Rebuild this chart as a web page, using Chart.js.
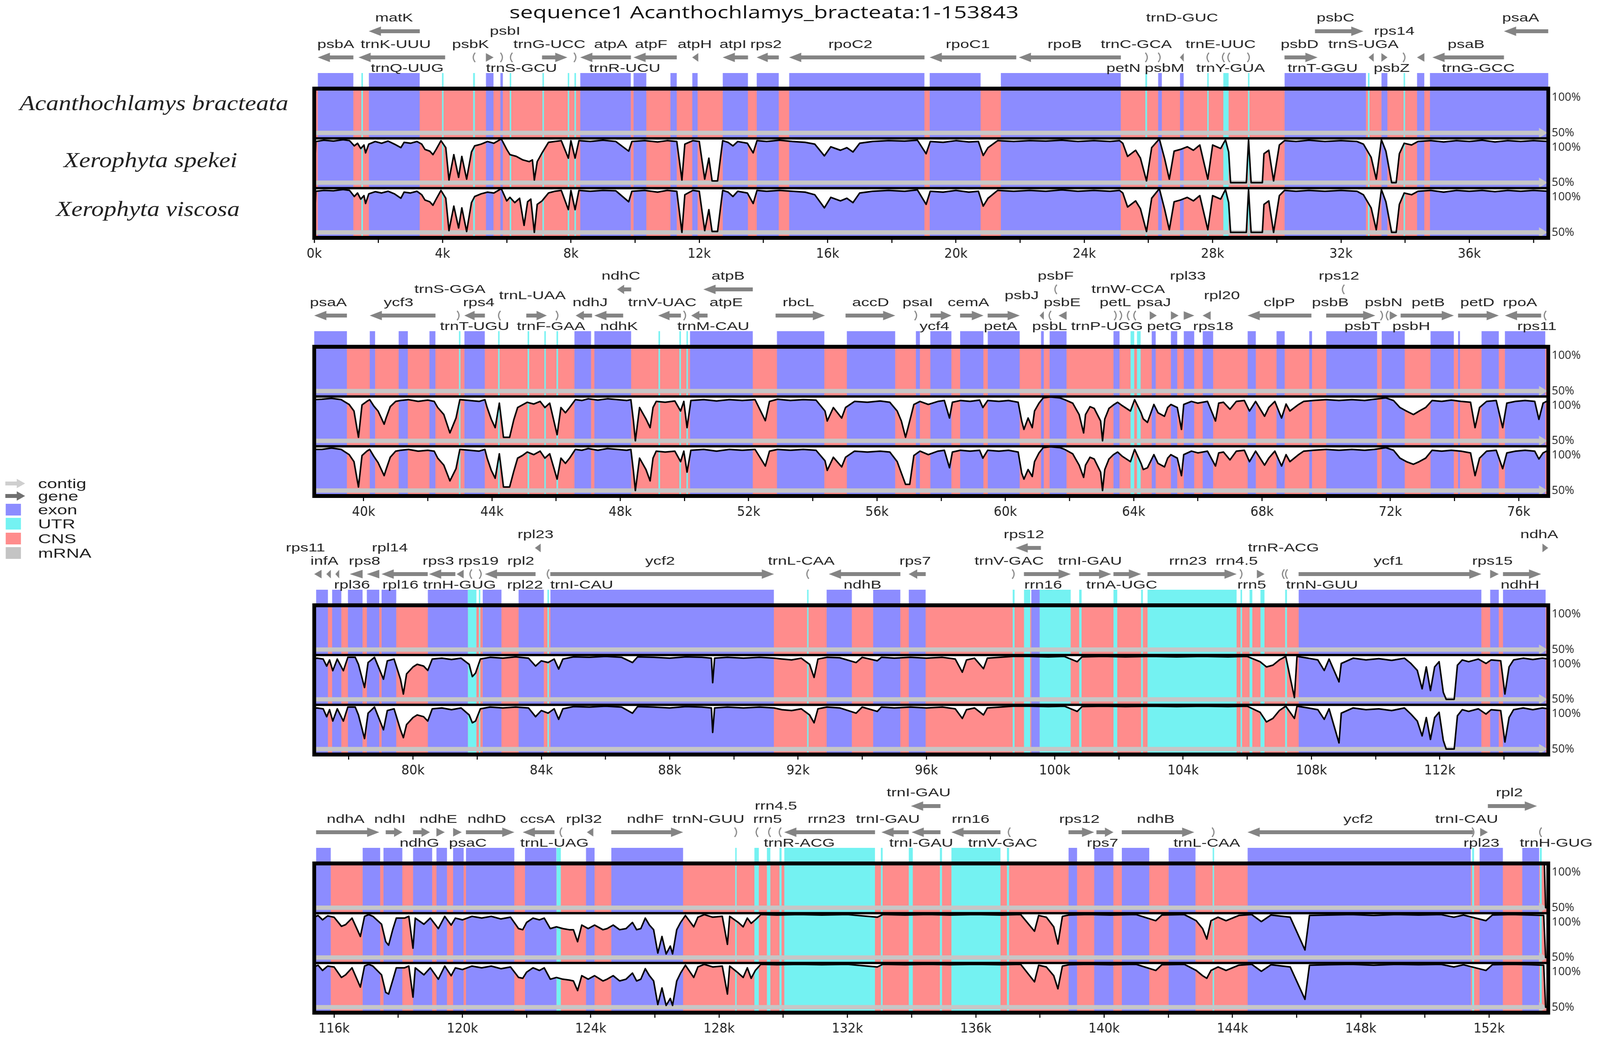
<!DOCTYPE html>
<html>
<head>
<meta charset="utf-8">
<script src="https://cdn.jsdelivr.net/npm/chart.js@4.4.1/dist/chart.umd.min.js"></script>
<style>
html,body{margin:0;padding:0;width:100%;height:100%;overflow:hidden;background:#fff;}
#stage{position:absolute;left:0;top:0;width:4206px;height:2663px;transform-origin:0 0;background:#fff;}
canvas.panel{position:absolute;left:0;}
.txt{position:absolute;white-space:nowrap;line-height:1;}
</style>
</head>
<body>
<div id="stage">
<canvas id="p0" class="panel" width="4206" height="662"></canvas>
<canvas id="p1" class="panel" width="4206" height="662"></canvas>
<canvas id="p2" class="panel" width="4206" height="662"></canvas>
<canvas id="p3" class="panel" width="4206" height="662"></canvas>
<svg id="legendIcons" style="position:absolute;left:0;top:0" width="80" height="2663"></svg>
</div>
<script>
// ---------------- DATA (positions in kb) ----------------
const genomeTitle = "sequence1 Acanthochlamys_bracteata:1-153843";
const speciesNames = ["Acanthochlamys bracteata", "Xerophyta spekei", "Xerophyta viscosa"];
const panelRanges = [[0, 38.461], [38.461, 76.922], [76.922, 115.382], [115.382, 153.843]];
const legendLabels = ["contig", "gene", "exon", "UTR", "CNS", "mRNA"];
const axisTicks = [0,2,4,6,8,10,12,14,16,18,20,22,24,26,28,30,32,34,36,38,40,42,44,46,48,50,52,54,56,58,60,62,64,66,68,70,72,74,76,78,80,82,84,86,88,90,92,94,96,98,100,102,104,106,108,110,112,114,116,118,120,122,124,126,128,130,132,134,136,138,140,142,144,146,148,150,152];
const contigRange = [0, 153.843];

// gene: [name, start, end, strand, arrowRow, labelRow, labelAt]
const genesP1 = [
 ["psbA",0.11,1.22,-1,"m",3,0.67],["trnK-UUU",1.38,4.08,-1,"m",3,2.54],["matK",1.70,3.29,-1,"h",0,2.49],
 ["trnQ-UUG",4.94,5.02,-1,"m",4,2.9],["psbK",5.35,5.59,1,"m",3,4.87],["psbI",5.80,5.88,1,"m",1,5.95],
 ["trnS-GCU",6.10,6.18,-1,"m",4,6.46],["trnG-UCC",7.10,7.89,1,"m",3,7.33],["trnR-UCU",8.09,8.17,1,"m",4,9.68],
 ["atpA",8.29,9.87,-1,"m",3,9.24],["atpF",9.95,11.30,-1,"m",3,10.5],["atpH",11.78,11.97,-1,"m",3,11.86],
 ["atpI",12.73,13.52,-1,"m",3,13.05],["rps2",13.79,14.48,-1,"m",3,14.08],["rpoC2",14.80,19.02,-1,"m",3,16.71],
 ["rpoC1",19.18,21.88,-1,"m",3,20.37],["rpoB",21.96,25.14,-1,"m",3,23.39],["trnC-GCA",25.90,25.98,1,"m",3,25.62],
 ["petN",26.30,26.38,1,"m",4,25.22],["psbM",26.98,27.10,-1,"m",4,26.5],["trnD-GUC",27.81,27.89,-1,"m",0,27.05],
 ["trnE-UUC",28.29,28.37,-1,"m",3,28.25],["trnY-GUA",28.46,28.54,-1,"m",4,28.56],["trnT-GGU",29.08,29.16,1,"m",4,31.43],
 ["psbD",30.24,31.27,1,"m",3,30.71],["psbC",31.19,32.70,1,"h",0,31.83],["trnS-UGA",32.86,33.02,-1,"m",3,32.7],
 ["psbZ",33.26,33.45,1,"m",4,33.58],["trnG-GCC",33.93,34.01,1,"m",4,36.28],["rps14",34.37,34.60,-1,"m",1,33.66],
 ["psaB",34.85,37.08,-1,"m",3,35.9],["psaA",37.08,38.46,-1,"h",0,37.6]
];
const genesP2 = [
 ["psaA",38.46,39.48,-1,"m",3,38.9],["ycf3",40.19,42.24,-1,"m",3,41.09],["trnS-GGA",42.91,42.99,1,"m",1,42.69],
 ["rps4",43.14,43.78,-1,"m",3,43.59],["trnT-UGU",44.19,44.27,-1,"m",4,43.46],["trnL-UAA",45.07,45.71,1,"m",2,45.26],
 ["trnF-GAA",45.99,46.07,1,"m",4,45.84],["ndhJ",46.61,47.12,-1,"m",3,47.06],["ndhK",47.19,48.09,-1,"m",4,47.96],
 ["ndhC",47.90,48.34,-1,"h",0,48.02],["trnV-UAC",49.18,49.89,-1,"m",3,49.31],["trnM-CAU",49.97,50.05,1,"m",4,50.9],
 ["atpE",50.21,50.72,-1,"m",3,51.3],["atpB",50.59,52.13,-1,"h",0,51.36],["rbcL",52.84,54.38,1,"m",3,53.55],
 ["accD",55.02,56.57,1,"m",3,55.8],["psaI",57.17,57.25,1,"m",3,57.27],["ycf4",57.66,58.32,1,"m",4,57.79],
 ["cemA",58.59,59.32,1,"m",3,58.85],["petA",59.45,60.45,1,"m",4,59.85],["psbJ",61.07,61.20,-1,"m",2,60.51],
 ["psbL",61.34,61.44,-1,"m",4,61.38],["psbF",61.52,61.62,-1,"h",0,61.57],["psbE",61.66,61.91,-1,"m",3,61.77],
 ["petL",63.39,63.47,1,"m",3,63.43],["petG",63.56,63.64,1,"m",4,64.96],["trnW-CCA",63.79,63.87,-1,"m",1,63.83],
 ["trnP-UGG",63.99,64.07,-1,"m",4,63.17],["psaJ",64.50,64.72,1,"m",3,64.63],["rpl33",65.16,65.40,1,"m",0,65.69],
 ["rps18",65.56,65.89,1,"m",4,66.48],["rpl20",66.15,66.40,-1,"m",2,66.75],["clpP",67.55,69.54,-1,"m",3,68.54],
 ["rps12",70.49,70.57,-1,"h",0,70.4],["psbB",70.00,71.53,1,"m",3,70.13],["psbT",71.69,71.77,1,"m",4,71.13],
 ["psbN",71.86,71.94,-1,"m",3,71.79],["psbH",71.98,72.22,1,"m",4,72.65],["petB",72.32,73.98,1,"m",3,73.18],
 ["petD",74.11,75.38,1,"m",3,74.71],["rpoA",75.57,76.70,-1,"m",3,76.04],["rps11",76.78,76.86,-1,"m",4,76.57]
];
const genesP3 = [
 ["rps11",76.92,77.15,-1,"m",1,76.65],["infA",77.30,77.44,-1,"m",3,77.24],["rpl36",77.58,77.70,-1,"m",4,78.1],
 ["rps8",78.03,78.43,-1,"m",3,78.49],["rpl14",78.56,78.95,-1,"m",1,79.28],["rpl16",79.02,80.46,-1,"m",4,79.61],
 ["rps3",80.50,81.32,-1,"m",3,80.79],["rpl22",81.36,81.58,-1,"m",4,83.49],["trnH-GUG",81.76,81.84,-1,"m",4,81.45],
 ["rps19",82.06,82.14,1,"m",3,82.04],["rpl2",82.24,83.82,-1,"m",3,83.36],["rpl23",83.80,83.98,-1,"h",0,83.82],
 ["trnI-CAU",84.17,84.25,-1,"m",4,85.26],["ycf2",84.28,91.25,1,"m",3,87.7],["trnL-CAA",92.26,92.34,-1,"m",3,92.1],
 ["ndhB",92.96,95.19,-1,"m",4,94.01],["rps7",95.45,95.98,-1,"m",3,95.65],["trnV-GAC",98.67,98.75,1,"m",3,98.58],
 ["rps12",98.78,99.57,-1,"h",0,99.04],["rrn16",99.04,100.50,1,"m",4,99.64],["trnI-GAU",100.76,101.76,1,"m",3,101.1],
 ["trnA-UGC",101.83,102.69,1,"m",4,102.09],["rrn23",102.89,105.67,1,"m",3,104.15],["rrn4.5",105.77,105.85,1,"m",3,105.67],
 ["rrn5",106.30,106.54,1,"m",4,106.14],["trnR-ACG",107.08,107.16,-1,"m",1,107.13],["trnN-GUU",107.18,107.26,-1,"m",4,108.33],
 ["ycf1",107.60,113.30,1,"m",3,110.4],["rps15",113.57,113.84,1,"m",3,113.64],["ndhH",113.97,115.16,1,"m",4,114.5],
 ["ndhA",115.20,115.38,1,"h",0,115.1]
];
const genesP4 = [
 ["ndhA",115.44,117.41,1,"m",3,116.36],["ndhI",117.61,118.13,1,"m",3,117.74],["ndhG",118.46,118.99,1,"m",4,118.66],
 ["ndhE",119.19,119.45,1,"m",3,119.25],["psaC",119.71,119.98,1,"m",4,120.17],["ndhD",120.11,121.62,1,"m",3,120.76],
 ["ccsA",121.88,122.87,-1,"m",3,122.34],["trnL-UAG",123.03,123.11,-1,"m",4,122.87],["rpl32",123.88,124.08,-1,"m",3,123.79],
 ["ndhF",124.64,126.88,1,"m",3,125.7],["trnN-GUU",128.48,128.56,1,"m",3,127.67],["rrn5",129.14,129.22,-1,"m",3,129.51],
 ["rrn4.5",129.53,129.61,-1,"m",1,129.77],["trnR-ACG",129.86,129.94,-1,"m",4,130.5],["rrn23",130.03,132.86,-1,"m",3,131.35],
 ["trnI-GAU",133.06,133.91,-1,"m",3,133.26],["trnI-GAU",133.98,134.90,-1,"h",0,134.22],["trnI-GAU",134.00,134.90,-1,"m",4,134.3],
 ["rrn16",135.24,136.77,-1,"m",3,135.84],["trnV-GAC",137.00,137.08,-1,"m",4,136.84],["rps12",138.89,139.69,1,"m",3,139.23],
 ["rps7",139.76,140.29,1,"m",4,139.95],["ndhB",140.55,142.81,1,"m",3,141.61],["trnL-CAA",143.36,143.44,1,"m",4,143.2],
 ["ycf2",144.47,151.50,-1,"m",3,147.92],["trnI-CAU",151.46,151.54,1,"m",3,151.3],["rpl23",151.72,151.96,1,"m",4,151.76],
 ["rpl2",151.96,153.49,1,"h",0,152.63],["trnH-GUG",153.56,153.64,-1,"m",4,154.09]
];

const exonRegions = [
 [0.11,1.22],[1.70,3.29],[5.35,5.59],[5.80,5.88],[8.29,9.87],[9.95,10.35],[11.1,11.3],[11.78,11.95],[12.73,13.52],[13.79,14.48],
 [14.8,19.02],[19.18,20.77],[21.4,25.14],[26.3,26.42],[26.98,27.1],[30.24,32.78],[33.26,33.45],[34.37,34.6],[34.77,39.48],
 [40.19,40.36],[41.09,41.38],[42.05,42.24],[43.14,43.78],[46.57,47.09],[47.19,48.34],[50.17,52.13],[52.88,54.36],[55.06,56.57],
 [57.21,57.34],[57.66,58.32],[58.59,59.32],[59.45,60.45],[61.11,61.2],[61.38,61.91],[63.37,63.56],[64.56,64.69],[65.16,65.36],
 [65.56,65.89],[66.15,66.48],[67.55,67.81],[68.45,68.71],[69.47,69.56],[70.0,71.59],[71.73,72.45],[73.25,73.98],[74.11,74.17],
 [74.84,75.38],[75.57,76.83],
 [76.98,77.35],[77.48,77.77],[77.97,78.43],[78.56,78.95],[79.02,79.48],[80.46,81.71],[82.17,82.76],[83.29,84.08],[84.28,91.25],
 [92.89,93.68],[94.34,95.19],[95.45,95.98],[99.27,99.53],[107.6,113.3],[113.57,113.84],[113.97,115.3],
 [115.44,115.9],[116.89,117.44],[117.54,118.13],[118.46,119.06],[119.19,119.52],[119.71,120.04],[120.11,121.62],[121.95,122.93],
 [123.85,124.12],[124.64,126.88],[138.89,139.16],[139.69,140.29],[140.55,141.41],[142.01,142.85],[144.47,151.43],[151.7,152.43],
 [153.03,153.56]
];
const utrRegions = [
 [1.47,1.52],[3.98,4.03],[4.95,5.01],[6.09,6.14],[7.11,7.16],[7.90,7.95],[8.11,8.16],[25.9,25.96],[27.83,27.88],[28.33,28.5],
 [29.1,29.15],[32.84,32.89],[33.95,34.0],
 [42.97,43.02],[44.19,44.24],[45.11,45.16],[45.63,45.68],[46.01,46.06],[49.19,49.24],[49.84,49.89],[50.06,50.11],[63.9,64.02],[64.1,64.22],
 [81.71,81.98],[82.05,82.1],[84.19,84.24],[92.28,92.33],[98.69,98.75],[99.04,99.24],[99.53,100.5],[100.76,100.84],[101.83,101.95],
 [102.69,102.75],[102.89,105.67],[105.79,105.84],[106.07,106.16],[106.41,106.54],[107.18,107.24],
 [122.93,123.07],[128.5,128.55],[129.1,129.24],[129.49,129.6],[129.88,129.95],[130.03,132.86],[133.04,133.1],[133.91,134.04],
 [134.88,134.95],[135.24,136.77],[136.97,137.04],[143.38,143.43],[151.47,151.53],[153.58,153.64]
];

// similarity curves [kb, %identity]
const refCurve = [[0,50],[0.04,100],[153.72,100],[153.76,50],[153.843,50]];
const spekeiCurve = [
 [0,50],[0.05,97],[0.3,98.5],[0.6,97.5],[0.9,99],[1.1,98],[1.25,92],[1.35,95],[1.45,89],[1.55,93],[1.6,84],[1.7,94],[1.9,97],[2.1,95],
 [2.3,97.5],[2.5,94],[2.7,90],[2.8,96],[3.0,95],[3.2,97],[3.35,94],[3.45,88],[3.6,86],[3.7,82],[3.8,88],[3.95,98],[4.1,90],[4.2,53],
 [4.35,82],[4.5,56],[4.6,80],[4.75,54],[4.9,85],[5.0,92],[5.2,94],[5.4,97],[5.6,95],[5.83,100],[6.0,88],[6.1,82],[6.3,80],[6.5,76],
 [6.7,74],[6.8,76],[6.86,53],[6.95,74],[7.1,84],[7.3,96],[7.5,97],[7.7,98],[7.92,78],[8.0,98],[8.13,78],[8.25,98],[8.6,97],[9.0,98.5],
 [9.4,97],[9.8,86],[9.9,97],[10.3,98],[10.7,96.5],[11.0,98],[11.3,97],[11.46,53],[11.55,94],[11.8,98],[12.0,97],[12.17,54],[12.3,78],
 [12.4,52],[12.57,52],[12.73,98],[12.9,96],[13.05,92],[13.2,97],[13.5,95],[13.68,84],[13.8,98],[14.1,97],[14.5,98.5],[14.9,97],
 [15.3,96],[15.6,94],[15.9,80.6],[16.1,91],[16.4,87],[16.6,90],[16.79,85],[17.0,95],[17.4,97],[17.9,98],[18.4,97.5],[18.8,98.5],
 [19.07,83],[19.2,97],[19.6,96],[20.0,98],[20.4,96.5],[20.7,97],[20.85,81],[21.0,90],[21.3,98],[21.8,97],[22.3,98],[22.8,97.5],
 [23.3,98.5],[23.8,97],[24.3,98],[24.8,97],[25.1,98],[25.2,95],[25.35,80],[25.6,87],[25.75,78],[25.94,52],[26.1,90],[26.34,100],
 [26.5,78],[26.65,54],[26.8,86],[27.0,88],[27.21,91],[27.4,87],[27.6,93],[27.85,54],[28.0,93],[28.25,89],[28.4,99],[28.5,85],
 [28.56,50],[29.05,50],[29.12,99],[29.2,50],[29.55,50],[29.6,83],[29.75,87],[29.9,52],[30.08,93],[30.24,98],[30.6,97],[31.0,98.5],
 [31.5,97],[32.0,98],[32.5,97],[32.7,94],[32.94,79],[33.1,54],[33.26,99],[33.4,86],[33.58,50],[33.72,50],[33.82,83],[33.97,95],
 [34.2,93],[34.4,97],[34.8,98],[35.2,96.5],[35.6,98],[36.0,97],[36.4,98.5],[36.8,96.5],[37.2,98],[37.6,97],[38.0,98],[38.46,97],
 [38.7,97.5],[39.0,98.5],[39.3,97],[39.55,91.5],[39.7,84],[39.84,54],[39.95,91],[40.1,95],[40.19,97],[40.32,89.6],[40.45,84],
 [40.64,69],[40.7,76],[40.83,89],[41.0,95],[41.15,96],[41.4,97],[41.7,95],[42.0,96.5],[42.2,95],[42.31,88],[42.5,80],[42.69,59],
 [42.88,76],[43.0,97],[43.3,96],[43.6,95],[43.78,97],[43.85,88],[43.98,74.5],[44.1,65],[44.23,93],[44.36,54],[44.55,54],[44.68,74],
 [44.8,88],[44.95,91],[45.1,94],[45.3,92],[45.5,95],[45.65,88],[45.8,93],[46.03,57],[46.15,88],[46.29,82],[46.42,88],[46.6,97],
 [46.8,96],[47.0,98],[47.3,96.5],[47.6,98],[47.9,97],[48.2,96],[48.33,97],[48.41,72.6],[48.47,50],[48.6,88],[48.8,75],[48.93,65],
 [49.02,88],[49.12,95],[49.4,94],[49.7,95.5],[49.88,84],[49.98,95],[50.08,65],[50.2,96],[50.6,97],[51.0,95.5],[51.4,97],[51.8,96],
 [52.2,97],[52.52,73],[52.65,95],[52.9,97.5],[53.3,96],[53.7,97],[54.1,96.5],[54.38,84],[54.45,72.6],[54.64,88],[54.9,76],[55.02,88],
 [55.3,95],[55.7,94],[56.1,95.5],[56.4,94],[56.63,84],[56.76,72.6],[56.89,54],[57.02,72.6],[57.15,91.5],[57.34,95],[57.6,91.5],
 [57.9,95],[58.1,96],[58.26,76],[58.35,94],[58.6,96],[58.9,95],[59.2,96.5],[59.3,88],[59.45,96],[59.8,95],[60.1,96],[60.4,94],
 [60.51,72.6],[60.58,63],[60.71,76],[60.84,65],[60.91,84],[61.05,93],[61.18,99],[61.4,100],[61.7,99],[61.85,97],[62.1,93],[62.3,80],
 [62.44,59],[62.5,80],[62.64,89],[62.77,87],[62.97,72.6],[63.03,50],[63.1,75],[63.23,87],[63.37,91],[63.5,94],[63.65,90],[63.9,84],
 [64.03,97],[64.23,82],[64.3,75],[64.43,71],[64.63,91.5],[64.76,82],[64.96,78],[65.06,88],[65.16,91.5],[65.36,88],[65.49,63],
 [65.56,91.5],[65.8,95],[66.0,93],[66.3,95],[66.55,72.6],[66.65,93],[66.8,94],[67.0,86],[67.2,95],[67.45,96],[67.61,84],[67.8,95],
 [68.08,78],[68.21,88],[68.4,95],[68.61,76],[68.75,92],[68.87,84],[69.14,91.5],[69.3,95],[69.6,96],[70.0,97],[70.4,96],[70.8,97],
 [71.2,96],[71.5,97.5],[71.86,99],[72.1,96],[72.3,88],[72.5,84],[72.72,80],[72.9,84],[73.1,88],[73.3,96],[73.6,95],[73.9,96.5],
 [74.2,95],[74.5,94],[74.64,65],[74.78,88],[75.0,95],[75.3,96],[75.5,65],[75.63,93],[75.9,95],[76.2,96],[76.5,95],[76.63,74.5],
 [76.76,93],[76.92,96],
 [77.0,97],[77.2,96],[77.31,88],[77.4,95],[77.5,82.7],[77.64,96],[77.83,82.7],[77.97,98],[78.2,98],[78.3,90],[78.49,63.5],[78.6,92],
 [78.8,98],[79.08,73],[79.2,94],[79.41,96],[79.61,73],[79.7,56],[79.8,79],[80.0,87],[80.13,90],[80.33,88],[80.46,83],[80.6,96],
 [80.9,97],[81.2,95.5],[81.5,97],[81.75,90],[81.85,76],[81.95,80],[82.1,96],[82.4,98],[82.8,97],[83.2,98.5],[83.6,97],[83.82,88],
 [84.0,94],[84.21,92],[84.4,96],[84.54,84.6],[84.67,96],[85.0,98.5],[85.5,98],[86.0,99],[86.5,98],[86.84,92],[87.0,98.5],[87.5,98],
 [88.0,97],[88.5,98.5],[89.0,98],[89.3,97],[89.34,69],[89.4,97],[89.8,98],[90.3,97],[90.8,98],[91.25,97],[91.5,96],[91.8,95],
 [92.1,97],[92.36,90],[92.5,75],[92.62,96],[92.9,98],[93.3,97.5],[93.81,92],[94.0,98],[94.47,94],[94.6,98],[95.0,97],[95.5,98],
 [96.0,97],[96.5,98],[96.9,96],[97.12,81],[97.25,95],[97.5,97],[97.78,85],[97.9,97],[98.3,98],[98.7,99],[99.2,99],[99.8,98.5],
 [100.3,99],[100.7,93],[100.85,98.5],[101.5,99],[102.2,98.5],[103.0,99],[103.8,98.5],[104.6,99],[105.4,98.5],[106.0,99],[106.4,93],
 [106.6,87],[106.8,89],[107.0,95],[107.2,99],[107.47,52],[107.55,99],[107.9,97],[108.2,95],[108.4,83],[108.55,96],[108.86,70],
 [108.93,91],[109.3,97],[109.7,95],[110.1,96.5],[110.5,94.5],[110.9,97],[111.1,91],[111.3,83],[111.45,62],[111.58,87],[111.71,60],
 [111.84,87],[111.98,93],[112.11,58],[112.2,50],[112.45,50],[112.55,89],[112.7,95],[112.9,93],[113.2,96],[113.44,91],[113.6,95],
 [113.9,94],[114.03,56],[114.16,87],[114.3,95],[114.6,97],[114.9,95.5],[115.2,97],[115.38,96],
 [115.5,98],[115.64,93],[115.8,97.5],[116.0,96],[116.23,85.6],[116.36,87.5],[116.56,95],[116.82,74],[116.95,97],[117.08,99],
 [117.21,97],[117.48,88],[117.61,68],[117.7,64],[117.83,82],[117.94,95],[118.2,95],[118.33,97],[118.46,60.6],[118.53,95],[118.8,88],
 [119.0,95],[119.25,83],[119.45,97],[119.65,87],[119.78,95],[120.0,93],[120.3,97],[120.6,95],[120.9,97],[121.2,94],[121.5,96],
 [121.75,83],[121.88,81.7],[122.0,90],[122.2,95],[122.4,93],[122.55,95],[122.74,83],[122.93,85],[123.13,83],[123.33,81.7],
 [123.46,81.7],[123.59,68],[123.72,87],[123.92,83],[124.12,87],[124.38,81.7],[124.51,83],[124.7,87],[124.9,81.7],[125.1,83],
 [125.3,90],[125.43,81.7],[125.56,83],[125.7,95],[125.83,87],[125.96,81.7],[126.09,55],[126.22,74],[126.35,54],[126.48,63],
 [126.55,54],[126.68,81.7],[126.8,90],[126.95,98],[127.21,85],[127.34,96],[127.54,99],[127.8,96],[128.1,97],[128.26,65],[128.33,97],
 [128.6,90],[128.75,85],[128.88,95],[129.0,89],[129.13,93],[129.3,99],[129.8,98.5],[130.5,99],[131.2,98.5],[132.0,99],[132.93,96],
 [133.1,99],[133.8,98.5],[134.5,99],[135.2,98.5],[136.0,99],[136.8,98.5],[137.4,99],[137.83,80],[137.96,98],[138.2,96],[138.43,85],
 [138.56,65.4],[138.7,97],[138.9,98.5],[139.5,99],[140.2,98.5],[141.0,99],[141.61,92],[141.8,98.5],[142.5,99],[142.87,92],[143.07,83],
 [143.2,71],[143.33,92],[143.55,96],[143.8,92],[144.2,98],[144.6,99],[144.9,91],[145.2,98.5],[145.8,96],[146.26,58.6],[146.4,98],
 [147.0,98.5],[147.7,99],[148.4,98],[149.1,99],[149.8,98.5],[150.5,99],[150.9,96],[151.2,98.5],[151.9,92],[152.1,98.5],[152.7,99],
 [153.3,98.5],[153.7,98],[153.76,50],[153.843,50]
];
const viscosaCurve = [
 [0,50],[0.05,97],[0.3,98],[0.6,97.5],[0.9,99],[1.1,98],[1.25,91],[1.35,95],[1.45,88],[1.55,92],[1.6,83],[1.7,94],[1.9,96.5],[2.1,95],
 [2.3,97],[2.5,94],[2.7,89],[2.8,96],[3.0,95],[3.2,97],[3.35,93],[3.45,87],[3.6,85],[3.7,81],[3.8,88],[3.95,98],[4.1,89],[4.2,52],
 [4.35,80],[4.5,55],[4.6,78],[4.75,51],[4.9,84],[5.0,91],[5.2,94],[5.4,96],[5.6,95],[5.83,100],[6.0,86],[6.1,90],[6.25,84],[6.4,89],
 [6.54,58],[6.65,85],[6.75,88],[6.86,50],[6.95,82],[7.1,86],[7.3,95],[7.5,97],[7.7,98],[7.92,76],[8.0,98],[8.13,76],[8.25,98],
 [8.6,97],[9.0,98],[9.4,97.5],[9.8,85],[9.9,97],[10.3,98],[10.7,96],[11.0,98],[11.3,97],[11.46,50],[11.55,93],[11.8,98],[12.0,97],
 [12.17,52],[12.3,76],[12.4,51],[12.57,51],[12.73,98],[12.9,96],[13.05,91],[13.2,97],[13.5,95],[13.68,83],[13.8,98],[14.1,97],
 [14.5,98],[14.9,97],[15.3,96],[15.6,93],[15.9,78],[16.1,90],[16.4,86],[16.6,89],[16.79,84],[17.0,95],[17.4,97],[17.9,98],[18.4,97],
 [18.8,98.5],[19.07,82],[19.2,97],[19.6,96],[20.0,98],[20.4,96],[20.7,97],[20.85,80],[21.0,89],[21.3,98],[21.8,97],[22.3,98],
 [22.8,97],[23.3,98.5],[23.8,97],[24.3,98],[24.8,97],[25.1,98],[25.2,95],[25.35,79],[25.6,86],[25.75,77],[25.94,51],[26.1,89],
 [26.34,100],[26.5,77],[26.65,53],[26.8,85],[27.0,87],[27.21,90],[27.4,86],[27.6,92],[27.85,53],[28.0,92],[28.25,88],[28.4,99],
 [28.5,84],[28.56,50],[29.05,50],[29.12,99],[29.2,50],[29.55,50],[29.6,82],[29.75,86],[29.9,50],[30.08,92],[30.24,98],[30.6,97],
 [31.0,98],[31.5,97],[32.0,98],[32.5,97],[32.7,93],[32.94,78],[33.1,53],[33.26,99],[33.4,85],[33.58,50],[33.72,50],[33.82,82],
 [33.97,95],[34.2,93],[34.4,97],[34.8,98],[35.2,96],[35.6,98],[36.0,97],[36.4,98],[36.8,96.5],[37.2,98],[37.6,97],[38.0,98],[38.46,97],
 [38.7,97],[39.0,98.5],[39.3,97],[39.55,91],[39.7,83],[39.84,54],[39.95,90],[40.1,95],[40.19,97],[40.32,89],[40.45,82],[40.64,67],
 [40.7,74],[40.83,88],[41.0,95],[41.15,96],[41.4,97],[41.7,95],[42.0,96],[42.2,95],[42.31,87],[42.5,79],[42.69,61],[42.88,75],
 [43.0,97],[43.3,96],[43.6,95],[43.78,97],[43.85,87],[43.98,73],[44.1,64],[44.23,92],[44.36,54],[44.55,54],[44.68,72],[44.8,87],
 [44.95,90],[45.1,94],[45.3,91],[45.5,95],[45.65,87],[45.8,92],[46.03,63],[46.15,87],[46.29,81],[46.42,87],[46.6,97],[46.8,96],
 [47.0,98],[47.3,96],[47.6,98],[47.9,97],[48.2,96],[48.33,97],[48.41,72],[48.47,50],[48.6,87],[48.8,74],[48.93,61],[49.02,87],
 [49.12,95],[49.4,94],[49.7,95],[49.88,83],[49.98,95],[50.08,71],[50.2,96],[50.6,97],[51.0,95],[51.4,97],[51.8,96],[52.2,97],
 [52.52,78],[52.65,95],[52.9,97],[53.3,96],[53.7,97],[54.1,96],[54.38,84],[54.45,73],[54.64,88],[54.9,77],[55.02,88],[55.3,95],
 [55.7,94],[56.1,95],[56.4,94],[56.63,83],[56.76,70],[56.89,57],[57.02,57],[57.15,90],[57.34,95],[57.6,91],[57.9,95],[58.1,96],
 [58.26,76],[58.35,94],[58.6,96],[58.9,95],[59.2,96],[59.3,87],[59.45,96],[59.8,95],[60.1,96],[60.4,94],[60.51,70],[60.58,63],
 [60.71,74],[60.84,66],[60.91,83],[61.05,93],[61.18,99],[61.4,100],[61.7,99],[61.85,97],[62.1,92],[62.3,79],[62.44,65],[62.5,79],
 [62.64,88],[62.77,86],[62.97,71],[63.03,50],[63.1,74],[63.23,86],[63.37,91],[63.5,94],[63.65,89],[63.9,83],[64.03,97],[64.23,81],
 [64.3,74],[64.43,76],[64.63,91],[64.76,81],[64.96,77],[65.06,87],[65.16,91],[65.36,87],[65.49,67],[65.56,91],[65.8,95],[66.0,93],
 [66.3,95],[66.55,78],[66.65,93],[66.8,94],[67.0,85],[67.2,95],[67.45,96],[67.61,83],[67.8,95],[68.08,79],[68.21,87],[68.4,95],
 [68.61,78],[68.75,91],[68.87,83],[69.14,91],[69.3,95],[69.6,96],[70.0,97],[70.4,96],[70.8,97],[71.2,96],[71.5,97],[71.86,99],
 [72.1,96],[72.3,87],[72.5,83],[72.72,80],[72.9,83],[73.1,87],[73.3,96],[73.6,95],[73.9,96],[74.2,95],[74.5,93],[74.64,67],[74.78,87],
 [75.0,95],[75.3,96],[75.5,75],[75.63,93],[75.9,95],[76.2,96],[76.5,95],[76.63,86],[76.76,93],[76.92,96],
 [77.0,97],[77.2,96],[77.31,87],[77.4,95],[77.5,82],[77.64,96],[77.83,82],[77.97,98],[78.2,98],[78.3,89],[78.49,62],[78.6,91],
 [78.8,98],[79.08,72],[79.2,94],[79.41,96],[79.61,72],[79.7,63],[79.8,78],[80.0,86],[80.13,89],[80.33,87],[80.46,82],[80.6,96],
 [80.9,97],[81.2,95],[81.5,97],[81.75,89],[81.85,80],[81.95,82],[82.1,96],[82.4,98],[82.8,97],[83.2,98],[83.6,97],[83.82,87],
 [84.0,94],[84.21,91],[84.4,96],[84.54,84],[84.67,96],[85.0,98.5],[85.5,98],[86.0,99],[86.5,98],[86.84,91],[87.0,98.5],[87.5,98],
 [88.0,97],[88.5,98.5],[89.0,98],[89.3,97],[89.34,69],[89.4,97],[89.8,98],[90.3,97],[90.8,98],[91.25,97],[91.5,95],[91.8,94],
 [92.1,96],[92.36,89],[92.5,80],[92.62,96],[92.9,98],[93.3,97],[93.81,91],[94.0,98],[94.47,93],[94.6,98],[95.0,97],[95.5,98],
 [96.0,97],[96.5,98],[96.9,96],[97.12,85],[97.25,95],[97.5,97],[97.78,89],[97.9,97],[98.3,98],[98.7,99],[99.2,99],[99.8,98.5],
 [100.3,99],[100.7,93],[100.85,98.5],[101.5,99],[102.2,98.5],[103.0,99],[103.8,98.5],[104.6,99],[105.4,98.5],[106.0,99],[106.4,92],
 [106.6,81],[106.8,85],[107.0,94],[107.2,99],[107.47,85],[107.55,99],[107.9,97],[108.2,95],[108.4,84],[108.55,96],[108.86,57],
 [108.93,91],[109.3,97],[109.7,95],[110.1,96],[110.5,94],[110.9,97],[111.1,90],[111.3,82],[111.45,65],[111.58,86],[111.71,61],
 [111.84,86],[111.98,92],[112.11,60],[112.2,50],[112.45,50],[112.55,88],[112.7,95],[112.9,93],[113.2,96],[113.44,90],[113.6,95],
 [113.9,94],[114.03,58],[114.16,86],[114.3,95],[114.6,97],[114.9,95],[115.2,97],[115.38,96],
 [115.5,98],[115.64,92],[115.8,97],[116.0,96],[116.23,84],[116.36,87],[116.56,95],[116.82,73],[116.95,97],[117.08,99],[117.21,97],
 [117.48,87],[117.61,67],[117.7,65],[117.83,81],[117.94,95],[118.2,95],[118.33,97],[118.46,61.5],[118.53,95],[118.8,87],[119.0,95],
 [119.25,82],[119.45,97],[119.65,86],[119.78,95],[120.0,93],[120.3,97],[120.6,95],[120.9,97],[121.2,94],[121.5,96],[121.75,84],
 [121.88,83],[122.0,90],[122.2,95],[122.4,92],[122.55,95],[122.74,82],[122.93,84],[123.13,82],[123.33,81],[123.46,80],[123.59,69],
 [123.72,86],[123.92,82],[124.12,86],[124.38,80],[124.51,82],[124.7,86],[124.9,80],[125.1,82],[125.3,89],[125.43,80],[125.56,82],
 [125.7,94],[125.83,86],[125.96,80],[126.09,53],[126.22,72],[126.35,52],[126.48,60],[126.55,52],[126.68,80],[126.8,89],[126.95,98],
 [127.21,84],[127.34,96],[127.54,99],[127.8,96],[128.1,97],[128.26,65],[128.33,97],[128.6,89],[128.75,84],[128.88,95],[129.0,83],
 [129.13,92],[129.3,99],[129.8,98.5],[130.5,99],[131.2,98.5],[132.0,99],[132.93,96],[133.1,99],[133.8,98.5],[134.5,99],[135.2,98.5],
 [136.0,99],[136.8,98.5],[137.4,99],[137.83,79],[137.96,98],[138.2,96],[138.43,86],[138.56,71],[138.7,97],[138.9,98.5],[139.5,99],
 [140.2,98.5],[141.0,99],[141.61,92],[141.8,98.5],[142.5,99],[142.87,92],[143.07,86],[143.2,83],[143.33,92],[143.55,96],[143.8,92],
 [144.2,98],[144.6,99],[144.9,91],[145.2,98.5],[145.8,96],[146.26,59],[146.4,98],[147.0,98.5],[147.7,99],[148.4,98],[149.1,99],
 [149.8,98.5],[150.5,99],[150.9,96],[151.2,98.5],[151.9,92],[152.1,98.5],[152.7,99],[153.3,98.5],[153.7,98],[153.76,50],[153.843,50]
];

// ---------------- STYLE ----------------
const EXON_COLOR = '#8c8cff', UTR_COLOR = '#74f2f2', CNS_COLOR = '#ff8c8c', MRNA_COLOR = '#c6c6c6', GENE_COLOR = '#848484';
const Y_MIN = 43.75, Y_MAX = 100.6;
const CANVAS_TOPS = [17, 678, 1340, 2001];
const LABEL_DY = [-180, -146, -130, -112, -51];
const ARROW_DY = {h: -147, m: -80};
const LABEL_FONT = '30px "Liberation Sans", Arial, sans-serif';
const LABEL_STRETCH = 1.42;

Chart.defaults.font.family = '"DejaVu Sans", sans-serif';
Chart.defaults.animation = false;

function toXY(pairs) { return pairs.map(p => ({x: p[0], y: p[1]})); }
function bandPts(intervals, topVal) {
  const pts = [];
  intervals.slice().sort((a, b) => a[0] - b[0]).forEach(([s, e]) => {
    pts.push({x: s, y: topVal}, {x: e, y: topVal}, {x: e, y: null});
  });
  return pts;
}
function drawGeneArrow(ctx, x1, x2, yc, strand) {
  const w = x2 - x1;
  ctx.fillStyle = GENE_COLOR; ctx.strokeStyle = GENE_COLOR;
  if (w < 10) {
    const cx = (x1 + x2) / 2;
    ctx.lineWidth = 3;
    ctx.beginPath();
    ctx.moveTo(cx - 3 * strand, yc - 12);
    ctx.quadraticCurveTo(cx + 7 * strand, yc, cx - 3 * strand, yc + 12);
    ctx.stroke();
  } else if (w < 36) {
    const tip = strand > 0 ? x2 : x1, base = strand > 0 ? x1 : x2;
    ctx.beginPath(); ctx.moveTo(base, yc - 11); ctx.lineTo(tip, yc); ctx.lineTo(base, yc + 11); ctx.closePath(); ctx.fill();
  } else {
    const head = Math.min(32, w * 0.5);
    ctx.beginPath();
    if (strand > 0) {
      ctx.moveTo(x1, yc - 5); ctx.lineTo(x2 - head, yc - 5); ctx.lineTo(x2 - head, yc - 12); ctx.lineTo(x2, yc);
      ctx.lineTo(x2 - head, yc + 12); ctx.lineTo(x2 - head, yc + 5); ctx.lineTo(x1, yc + 5);
    } else {
      ctx.moveTo(x2, yc - 5); ctx.lineTo(x1 + head, yc - 5); ctx.lineTo(x1 + head, yc - 12); ctx.lineTo(x1, yc);
      ctx.lineTo(x1 + head, yc + 12); ctx.lineTo(x1 + head, yc + 5); ctx.lineTo(x2, yc + 5);
    }
    ctx.closePath(); ctx.fill();
  }
}
function drawLabel(ctx, text, x, y) {
  ctx.save();
  ctx.translate(x, y); ctx.scale(LABEL_STRETCH, 1);
  ctx.font = LABEL_FONT; ctx.fillStyle = '#222'; ctx.textAlign = 'center'; ctx.textBaseline = 'middle';
  ctx.fillText(text, 0, 0);
  ctx.restore();
}
function annotPlugin(genes) {
  return {
    id: 'annot',
    afterDatasetsDraw(chart) {
      const {ctx, chartArea: ca, scales} = chart;
      const xs = scales.x, t1 = scales.y1, t2 = scales.y2, t3 = scales.y3;
      const top = t1.top;
      ctx.save();
      genes.forEach(([name, s, e, strand, arow, lrow, lkb]) => {
        const x1 = Math.max(xs.getPixelForValue(s), ca.left);
        const x2 = Math.min(xs.getPixelForValue(e), ca.right);
        if (x2 >= x1) drawGeneArrow(ctx, x1, x2, top + ARROW_DY[arow], strand);
        drawLabel(ctx, name, xs.getPixelForValue(lkb), top + LABEL_DY[lrow]);
      });
      ctx.strokeStyle = '#000';
      ctx.lineWidth = 6;
      [t1.bottom, t2.bottom].forEach(y => { ctx.beginPath(); ctx.moveTo(ca.left, y); ctx.lineTo(ca.right, y); ctx.stroke(); });
      ctx.lineWidth = 10;
      ctx.strokeRect(ca.left, top, ca.right - ca.left, t3.bottom - top);
      ctx.font = '30px "Open Sans", "DejaVu Sans", sans-serif'; ctx.fillStyle = '#222';
      ctx.textAlign = 'left'; ctx.textBaseline = 'middle';
      [t1, t2, t3].forEach(s => {
        ctx.fillText('100%', ca.right + 9, s.top + 23);
        ctx.fillText('50%', ca.right + 9, s.getPixelForValue(50));
      });
      ctx.restore();
    }
  };
}

const panelGenes = [genesP1, genesP2, genesP3, genesP4];
const curves = [refCurve, spekeiCurve, viscosaCurve];
function trackAxis(w) {
  return {type: 'linear', min: Y_MIN, max: Y_MAX, stack: 'panel', stackWeight: 130.67, weight: w, position: 'left', display: false};
}

panelRanges.forEach((range, k) => {
  const canvas = document.getElementById('p' + k);
  canvas.style.top = CANVAS_TOPS[k] + 'px';
  const base = {type: 'line', pointRadius: 0, borderWidth: 0, tension: 0, spanGaps: false};
  const datasets = [];
  ['y1', 'y2', 'y3'].forEach((yid, t) => {
    datasets.push({...base, label: 'CNS', yAxisID: yid, data: bandPts([contigRange], Y_MAX), fill: 'start', backgroundColor: CNS_COLOR, order: 100});
    datasets.push({...base, label: 'exon', yAxisID: yid, data: bandPts(exonRegions, Y_MAX), fill: 'start', backgroundColor: EXON_COLOR, order: 99});
    datasets.push({...base, label: 'UTR', yAxisID: yid, data: bandPts(utrRegions, Y_MAX), fill: 'start', backgroundColor: UTR_COLOR, order: 98});
    datasets.push({...base, label: 'mask', yAxisID: yid, data: toXY(curves[t]), fill: 'end', backgroundColor: '#ffffff', order: 50});
    datasets.push({...base, label: 'mRNA', yAxisID: yid,
      data: [{x: Math.max(contigRange[0], range[0]), y: 50}, {x: Math.min(contigRange[1], range[1]) - 0.2, y: 50}],
      borderWidth: 11, borderColor: MRNA_COLOR, borderCapStyle: 'butt',
      pointRadius: [0, 15], pointStyle: 'triangle', rotation: 90, pointBackgroundColor: MRNA_COLOR, pointBorderWidth: 0, order: 40});
    datasets.push({...base, label: speciesNames[t], yAxisID: yid, data: toXY(curves[t]), fill: false,
      borderColor: '#000', borderWidth: 4, borderJoinStyle: 'round', order: 30});
  });
  datasets.push({...base, label: 'exon strip', yAxisID: 'yS', data: bandPts(exonRegions, 1), fill: 'start', backgroundColor: EXON_COLOR, order: 97});
  datasets.push({...base, label: 'UTR strip', yAxisID: 'yS', data: bandPts(utrRegions, 1), fill: 'start', backgroundColor: UTR_COLOR, order: 96});

  new Chart(canvas, {
    type: 'line',
    data: {datasets},
    options: {
      responsive: false, animation: false, events: [], devicePixelRatio: 1,
      layout: {padding: {left: 826, right: 136, top: 0, bottom: 0}},
      plugins: {legend: {display: false}, tooltip: {enabled: false}, title: {display: false}},
      scales: {
        x: {
          type: 'linear', min: range[0], max: range[1], position: 'bottom',
          afterBuildTicks: (s) => { s.ticks = axisTicks.filter(v => v >= s.min - 1e-6 && v <= s.max + 1e-6).map(v => ({value: v})); },
          afterFit: (s) => { s.height = 70; },
          ticks: {autoSkip: false, maxRotation: 0, padding: 10, color: '#222',
            font: {family: '"DejaVu Sans", sans-serif', size: 33},
            callback: (v) => (Math.round(v) % 4 === 0 ? Math.round(v) + 'k' : '')},
          grid: {drawOnChartArea: false, drawTicks: true, tickLength: 13, color: '#111', lineWidth: 3},
          border: {display: false}
        },
        yA: {type: 'linear', min: 0, max: 1, stack: 'panel', stackWeight: 159, weight: 5, position: 'left', display: false},
        yS: {type: 'linear', min: 0, max: 1, stack: 'panel', stackWeight: 41, weight: 4, position: 'left', display: false},
        y1: trackAxis(3), y2: trackAxis(2), y3: trackAxis(1)
      }
    },
    plugins: [annotPlugin(panelGenes[k])]
  });
});

// ---------------- TEXT OVERLAYS ----------------
const stage = document.getElementById('stage');
function placeText(text, font, cx, cy, targetW, color) {
  const el = document.createElement('div');
  el.className = 'txt';
  el.textContent = text;
  el.style.font = font;
  el.style.color = color || '#222';
  el.style.lineHeight = '1';
  stage.appendChild(el);
  const w = el.offsetWidth, h = el.offsetHeight;
  const sx = targetW ? targetW / w : 1;
  el.style.left = (cx - w / 2) + 'px';
  el.style.top = (cy - h / 2) + 'px';
  el.style.transformOrigin = 'center center';
  el.style.transform = 'scaleX(' + sx + ')';
  return el;
}
placeText(genomeTitle, '44px "Open Sans", sans-serif', 2008, 30, 1339, '#111');
placeText(speciesNames[0], 'italic 54px "Liberation Serif", serif', 404, 264, 706, '#222');
placeText(speciesNames[1], 'italic 54px "Liberation Serif", serif', 395, 410, 456, '#222');
placeText(speciesNames[2], 'italic 54px "Liberation Serif", serif', 388, 535, 482, '#222');

// legend
const legendY = [1238, 1270, 1305, 1341, 1379, 1416];
const legendSwatch = ['#cfcfcf', '#707070', EXON_COLOR, UTR_COLOR, CNS_COLOR, '#c4c4c4'];
const svg = document.getElementById('legendIcons');
let svgHtml = '';
legendLabels.forEach((lab, i) => {
  const y = legendY[i];
  if (i < 2) {
    svgHtml += `<polygon points="14,${y-5} 44,${y-5} 44,${y-12} 66,${y} 44,${y+12} 44,${y+5} 14,${y+5}" fill="${legendSwatch[i]}"/>`;
  } else {
    svgHtml += `<rect x="15" y="${y-15}" width="40" height="30" fill="${legendSwatch[i]}"/>`;
  }
  const el = document.createElement('div');
  el.className = 'txt';
  el.textContent = lab;
  el.style.font = '34px "Liberation Sans", Arial, sans-serif';
  el.style.color = '#222';
  el.style.left = '100px';
  el.style.top = (y - 19) + 'px';
  el.style.transformOrigin = 'left center';
  el.style.transform = 'scaleX(1.4)';
  stage.appendChild(el);
});
svg.innerHTML = svgHtml;

// fit the 4206x2663 layout into the actual viewport
function fitStage() {
  const vw = document.documentElement.clientWidth || window.innerWidth;
  const vh = document.documentElement.clientHeight || window.innerHeight;
  const sx = vw / 4206, sy = vh / 2663;
  stage.style.transform = (Math.abs(sx - 1) < 0.002 && Math.abs(sy - 1) < 0.002) ? 'none' : `scale(${sx}, ${sy})`;
}
fitStage();
window.addEventListener('resize', fitStage);
</script>
</body>
</html>
